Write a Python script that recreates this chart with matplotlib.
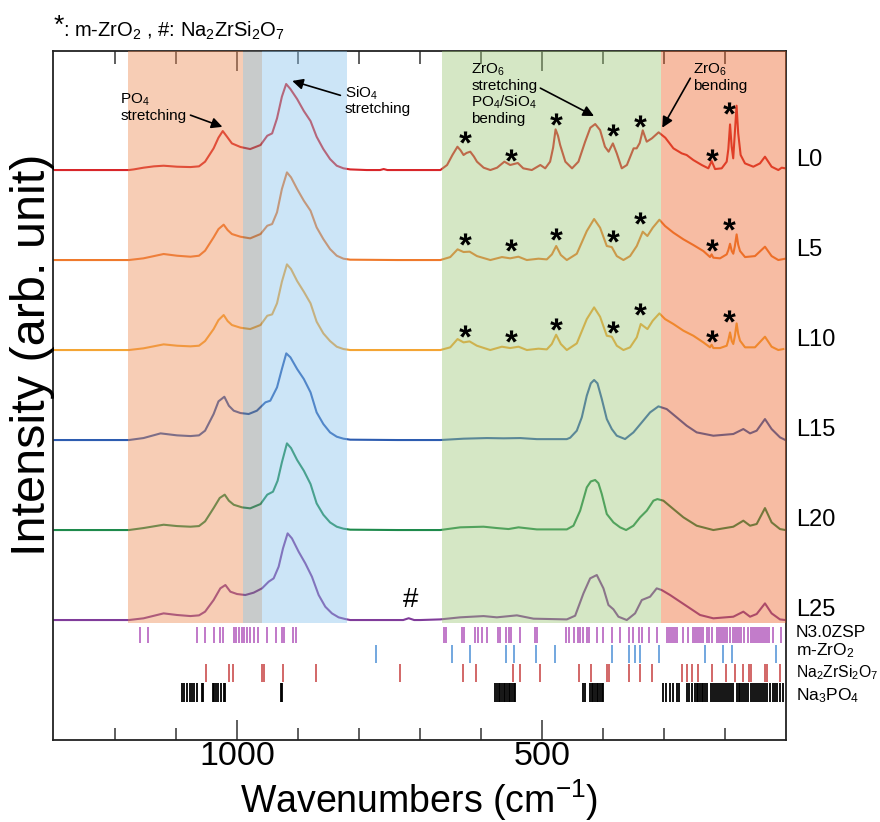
import numpy as np
import matplotlib
matplotlib.use('Agg')
import matplotlib.pyplot as plt
from matplotlib.patches import Rectangle
from matplotlib.textpath import TextPath
from matplotlib.font_manager import FontProperties
from matplotlib.path import Path

plt.rcParams['font.family'] = ['Liberation Sans', 'DejaVu Sans']
plt.rcParams['mathtext.fontset'] = 'custom'
plt.rcParams['mathtext.rm'] = 'Liberation Sans'
plt.rcParams['mathtext.it'] = 'Liberation Sans:italic'
plt.rcParams['mathtext.bf'] = 'Liberation Sans:bold'

# ---------------- data (wavenumber in cm-1, intensity in arb. unit) ----------------
SAMPLES = ['L0', 'L5', 'L10', 'L15', 'L20', 'L25']

WN_L0 = [1302, 1178, 1170, 1154, 1137, 1121, 1099, 1077, 1063, 1053, 1039, 1031, 1024, 1017, 1009, 995, 979, 962, 951, 943,
         935, 927, 920, 913, 902, 891, 880, 870, 859, 848, 837, 826, 815, 788, 766, 760, 754, 738,
         700, 667, 656, 647, 639, 634, 629, 624, 618, 612, 607, 596, 585, 574, 562, 552.5, 540, 531, 517, 503,
         495, 487, 482, 478, 474, 470.5, 462, 451, 440.5, 429.5, 421, 413, 405, 397, 391, 384, 377.6, 369.4, 361, 350,
         345, 340, 335, 328.5, 320, 309, 298, 284.7, 271, 263, 252, 238.3, 227.4, 222, 216.4, 205.5, 197.3, 194.6, 191.8, 189.1,
         186.6, 183.8, 181.1, 178.4, 174.4, 167.3, 153.6, 142.7, 134.5, 123.6, 112.6, 107, 101]
I_L0 = [0, 0, 0.007, 0.026, 0.041, 0.048, 0.037, 0.033, 0.041, 0.093, 0.241, 0.36, 0.433, 0.37, 0.296, 0.256, 0.233, 0.278, 0.381, 0.407,
        0.574, 0.815, 0.956, 0.9, 0.789, 0.656, 0.544, 0.37, 0.233, 0.122, 0.048, 0.019, 0.007, 0, 0, 0.011, 0, 0,
        0, 0, 0.056, 0.17, 0.259, 0.22, 0.167, 0.19, 0.204, 0.15, 0.093, 0.026, 0, 0.026, 0.093, 0.056, 0.078, 0.019, 0, 0.056,
        0.019, 0.093, 0.25, 0.452, 0.38, 0.278, 0.093, 0.019, 0.093, 0.315, 0.47, 0.511, 0.444, 0.259, 0.204, 0.296, 0.185, 0.019, 0.056, 0.241,
        0.241, 0.3, 0.441, 0.315, 0.352, 0.419, 0.359, 0.241, 0.185, 0.167, 0.111, 0.056, 0.019, 0.1, 0.011, 0.019, 0.093, 0.233, 0.507, 0.259,
        0.13, 0.426, 0.715, 0.407, 0.167, 0.074, 0.037, 0.074, 0.148, 0.037, 0, 0.026, 0.019]

WN_L5 = [1302, 1178, 1154, 1121, 1099, 1077, 1063, 1053, 1039, 1031, 1022.5, 1016, 1009, 995, 979, 962, 951, 943, 935, 927,
         918.7, 912, 902, 891, 880, 870, 859, 848, 837, 826, 815, 738,
         683.6, 667, 650.8, 638.8, 629, 619, 607, 585, 566, 552.5, 539, 525.2, 506, 492.4, 484, 477, 469.4, 459.6, 443.2, 426.8,
         414.8, 405, 394, 385.8, 377.6, 366.7, 355.8, 344.8, 335, 327.4, 318.6, 307.7, 298.4, 284.7, 268.3, 252, 235.6, 224.6, 222, 219.2,
         208.2, 197.3, 194.6, 191.8, 189, 186.5, 184, 181, 178.4, 175.4, 167.2, 150.9, 134.5, 123.6, 112.6, 101]
I_L5 = [0, 0, 0.019, 0.067, 0.048, 0.037, 0.048, 0.104, 0.252, 0.344, 0.393, 0.333, 0.289, 0.259, 0.241, 0.289, 0.381, 0.4, 0.53, 0.789,
        0.974, 0.919, 0.789, 0.659, 0.548, 0.363, 0.233, 0.122, 0.048, 0.015, 0.004, 0,
        0, 0, 0.033, 0.119, 0.089, 0.093, 0.044, 0, 0.033, 0.019, 0.037, 0, 0.015, 0.007, 0.063, 0.156, 0.056, 0, 0.07, 0.322,
        0.456, 0.359, 0.156, 0.144, 0.044, 0, 0.044, 0.156, 0.315, 0.267, 0.359, 0.448, 0.378, 0.304, 0.23, 0.167, 0.1, 0.033, 0.063, 0.026,
        0.019, 0.063, 0.11, 0.181, 0.1, 0.07, 0.15, 0.285, 0.17, 0.1, 0.033, 0.044, 0.148, 0.044, 0, 0.015]

WN_L10 = [1302, 1178, 1154, 1121, 1099, 1077, 1063, 1053, 1039, 1031, 1022.5, 1016, 1009, 995, 979, 962, 951, 943, 935, 927,
          918.7, 912, 902, 891, 880, 870, 859, 848, 837, 826, 815, 738,
          683.6, 667, 650.8, 638.8, 629, 619.1, 607.1, 585.2, 566.1, 552.5, 538.8, 525.1, 506, 492.4, 484.2, 477.1, 469.4, 459.6, 443.2, 426.8,
          414.8, 405, 394, 385.8, 377.6, 366.7, 355.8, 344.8, 338.3, 327.3, 318.6, 307.7, 298.4, 284.7, 268.3, 252, 235.6, 224.6, 222, 219.2,
          208.2, 197.3, 194.6, 191.8, 189, 186.5, 184, 181, 178.4, 175.4, 167.2, 150.9, 134.5, 123.6, 112.6, 104.4]
I_L10 = [0, 0, 0.019, 0.063, 0.048, 0.041, 0.048, 0.1, 0.233, 0.333, 0.389, 0.322, 0.278, 0.248, 0.233, 0.278, 0.381, 0.396, 0.519, 0.759,
         0.952, 0.9, 0.767, 0.648, 0.519, 0.315, 0.185, 0.1, 0.037, 0.011, 0, 0,
         0, 0, 0.03, 0.122, 0.085, 0.096, 0.048, 0, 0.037, 0.022, 0.037, 0, 0.015, 0.007, 0.067, 0.17, 0.067, 0, 0.074, 0.344,
         0.474, 0.37, 0.159, 0.148, 0.048, 0, 0.03, 0.141, 0.289, 0.233, 0.326, 0.407, 0.344, 0.289, 0.215, 0.159, 0.085, 0.03, 0.059, 0.022,
         0.022, 0.048, 0.11, 0.196, 0.1, 0.067, 0.15, 0.296, 0.18, 0.104, 0.03, 0.03, 0.148, 0.037, 0, 0.011]

WN_L15 = [1302, 1178, 1154, 1126, 1099, 1077, 1063, 1053, 1039, 1031, 1021.4, 1014, 1006, 995, 981.5, 968, 954, 946, 935, 927,
          919.8, 913, 902, 891, 880, 870, 859, 848, 837, 826, 815, 738,
          700, 667.2, 629, 590.7, 563.4, 536, 508.8, 459.6, 454, 443.2, 435, 426.8, 420.2, 414.8, 409.3, 402.2, 394, 385.8, 377.6, 364,
          350.3, 336.6, 323, 309.3, 295.7, 279.3, 262.9, 246.5, 219.2, 186.4, 170, 159, 148.1, 134.5, 123.6, 109.9, 101]
I_L15 = [0, 0, 0.022, 0.074, 0.052, 0.044, 0.052, 0.104, 0.289, 0.43, 0.481, 0.381, 0.326, 0.3, 0.289, 0.326, 0.419, 0.437, 0.585, 0.789,
         0.963, 0.919, 0.789, 0.678, 0.53, 0.307, 0.178, 0.085, 0.037, 0.015, 0.004, 0,
         0, 0, 0.015, 0.022, 0.019, 0.022, 0.01, 0.01, 0.026, 0.104, 0.252, 0.493, 0.63, 0.667, 0.63, 0.456, 0.233, 0.122, 0.048, 0.011,
         0.085, 0.196, 0.307, 0.374, 0.344, 0.252, 0.159, 0.085, 0.048, 0.067, 0.122, 0.074, 0.104, 0.233, 0.122, 0.03, 0]

WN_L20 = [1302, 1178, 1154, 1121, 1099, 1077, 1063, 1053, 1039, 1029, 1020.8, 1014, 1006, 992.4, 979, 962, 951, 941.6, 934, 927,
          918.7, 912, 902, 891, 880, 870, 859, 848, 837, 826, 815, 738,
          700, 667.2, 634.4, 596.2, 574.3, 555.2, 538.8, 508.8, 459.6, 448.7, 437.7, 426.8, 420.2, 413.1, 407.7, 402.2, 394, 383.1, 372.2, 362.3,
          350.3, 339.4, 328.4, 317.5, 311, 301.1, 284.7, 268.3, 246.5, 219.2, 186.4, 170, 159, 148.1, 134.5, 123.6, 109.9, 101]
I_L20 = [0, 0, 0.022, 0.059, 0.044, 0.037, 0.044, 0.096, 0.244, 0.356, 0.393, 0.326, 0.281, 0.252, 0.241, 0.289, 0.393, 0.426, 0.548, 0.752,
         0.963, 0.911, 0.778, 0.659, 0.511, 0.296, 0.17, 0.085, 0.037, 0.015, 0.004, 0,
         0, 0, 0.03, 0.037, 0.022, 0.011, 0.03, 0.007, 0.007, 0.048, 0.215, 0.474, 0.54, 0.556, 0.52, 0.4, 0.178, 0.085, 0.03, 0,
         0.048, 0.141, 0.215, 0.326, 0.344, 0.326, 0.233, 0.141, 0.048, 0, 0.037, 0.104, 0.048, 0.067, 0.244, 0.085, 0.011, 0]

WN_L25 = [1302, 1178, 1154, 1121, 1099, 1077, 1063, 1053, 1039, 1028, 1019.7, 1011.5, 1000.6, 987, 973.3, 959.6, 948.7, 940.5, 932.3, 925.2,
          917.6, 910.5, 899.5, 888.6, 877.7, 866.7, 855.8, 844.9, 834, 823, 815, 728, 719, 710,
          700, 667.2, 634.4, 596.2, 574.3, 541.5, 514.2, 459.6, 445.9, 432.3, 421.3, 410.4, 399.5, 391.3, 383.1, 374.9, 361.2, 347.6, 336.6, 323,
          312.1, 303.9, 290.2, 273.8, 257.4, 241, 219.2, 186.4, 170, 159, 148.1, 134.5, 123.6, 109.9, 101]
I_L25 = [0, 0, 0.019, 0.074, 0.056, 0.044, 0.052, 0.093, 0.222, 0.352, 0.389, 0.315, 0.289, 0.278, 0.304, 0.352, 0.426, 0.463, 0.593, 0.796,
         0.963, 0.907, 0.759, 0.63, 0.481, 0.278, 0.148, 0.074, 0.03, 0.011, 0, 0, 0.02, 0,
         0, 0.007, 0.03, 0.044, 0.03, 0.052, 0.015, 0.007, 0.048, 0.296, 0.463, 0.5, 0.352, 0.167, 0.119, 0.037, 0, 0.074, 0.222, 0.259,
         0.352, 0.333, 0.278, 0.204, 0.13, 0.056, 0.019, 0.037, 0.093, 0.037, 0.067, 0.185, 0.074, 0.007, 0]

# m-ZrO2 markers (*) : wavenumbers and heights above each baseline
STAR_WN = [626, 551, 477, 384, 339, 222, 193]
STAR_L0 = [0.37, 0.17, 0.57, 0.45, 0.55, 0.17, 0.69]
STAR_L5 = [0.23, 0.167, 0.29, 0.27, 0.47, 0.163, 0.40]
STAR_L10 = [0.214, 0.156, 0.289, 0.259, 0.456, 0.151, 0.381]

# reference line positions
REF_NAMES = ['N3.0ZSP', 'm-ZrO$_2$', 'Na$_2$ZrSi$_2$O$_7$', 'Na$_3$PO$_4$']
REF_N30ZSP = [1159, 1147, 1066, 1052.5, 1039, 1028, 1024, 1006, 1002, 997.4, 993, 988.6, 984, 979, 973, 967, 951.4, 936.7, 926.9, 924,
              909, 903.4, 661.7, 657.4, 631.7, 627.9, 609.8, 606, 598.9, 590.7, 573.2, 568.8, 559, 555.2, 551.4, 536, 511.5, 508.7,
              460.7, 456.8, 448.6, 442, 437.7, 433.3, 426.8, 422.4, 409.3, 399.5, 385.8, 372.1, 356.8, 351.4, 340.5, 336.6, 324, 312,
              295.6, 292.4, 289, 285.8, 282.5, 278.2, 269.4, 260.1, 251.9, 248.6, 245.4, 242, 238.8, 235.5, 230, 225.7, 221.9, 212.6,
              209.3, 206, 202.8, 199.5, 196.2, 191.8, 187.5, 183.1, 179.8, 176.5, 173.3, 168.9, 161.8, 157.9, 154.7, 151.4, 148.1,
              144.8, 141.6, 138.3, 135, 131.7, 127.4, 120.8, 108.8]
REF_MZRO2 = [772, 648, 619, 559, 546, 510, 479, 386, 357, 348, 339, 309, 233, 204, 189, 116]
REF_NZS = [1051, 1013, 1007, 960, 957, 925, 871, 734, 630, 608, 548, 536, 503, 440, 420, 394, 391, 357, 340, 320, 271, 263, 255,
           244, 222, 198, 184, 170, 160, 158, 134.5, 130.6, 110]
REF_NPO = [1091, 1087, 1083, 1078, 1074, 1071, 1066, 1058, 1056, 1040.5, 1038, 1034.5, 1031, 1027, 1022.5, 1020, 928, 926.3,
           577, 574.4, 571.6, 568.8, 566.1, 563.4, 560.7, 557.9, 555.2, 552.5, 549.7, 547, 544.3,
           433.3, 429.5, 421.3, 418.6, 415.9, 413.1, 410.4, 407.7, 404.9, 402.2, 399.5,
           301.1, 296.7, 290.2, 285.8, 279.3, 274.9, 262.9, 258.5, 254.7, 249.2, 246.5, 243.7, 241, 238.3, 235.5, 232.8, 230.1,
           223.5, 219.1, 215.9, 212.6, 209.3, 206, 202.8, 199.5, 197.3, 194, 190.7, 187.5, 180.9, 177.6, 175.4, 172.7, 168.9,
           165.6, 161.8, 157.9, 154.7, 151.4, 148.1, 144.8, 141.6, 138.3, 134.5, 130.6, 126.3, 121.9, 118.1, 114.3, 109.9, 105.5]

# band assignment regions (cm-1)
REGIONS = [(990, 1180), (960, 990), (820, 960), (305, 665), (100, 305)]

# ---------------- styling ----------------
OFFSETS = [5, 4, 3, 2, 1, 0]
LINE_COLORS = ['#d8262a', '#ef7a2c', '#f4a534', '#2d5cb0', '#1e8a4c', '#803c9a']
REGION_COLORS = ['#ee8850', '#7e8383', '#86c3ee', '#9bc675', '#ec6024']
REGION_ALPHA = 0.42
REF_COLORS = ['#b055bb', '#4b8fd6', '#c63f3f', '#000000']
REF_Y = [(-0.074, -0.259), (-0.278, -0.474), (-0.489, -0.689), (-0.70, -0.908)]
REF_LABEL_Y = [-0.189, -0.389, -0.633, -0.889]
REF_LABEL_SIZE = [12.5, 12.5, 11.3, 12.5]

fig = plt.figure(figsize=(8.8, 8.22), dpi=100)
ax = fig.add_axes([53.3 / 880, 1 - 740 / 822, (786 - 53.3) / 880, (740 - 50.7) / 822])
ax.set_xlim(1302, 100)
ax.set_ylim(-1.333, 6.326)

spectra = [(WN_L0, I_L0), (WN_L5, I_L5), (WN_L10, I_L10), (WN_L15, I_L15), (WN_L20, I_L20), (WN_L25, I_L25)]
for (wn, inten), off, col, name in zip(spectra, OFFSETS, LINE_COLORS, SAMPLES):
    ax.plot(wn, np.array(inten) + off, color=col, lw=1.5, zorder=2, solid_joinstyle='round')
    ax.text(1.0136, off + 0.05, name, transform=ax.get_yaxis_transform(), fontsize=17,
            ha='left', va='baseline', clip_on=False)

# translucent band overlays
for (x0, x1), c in zip(REGIONS, REGION_COLORS):
    ax.add_patch(Rectangle((x0, -0.033), x1 - x0, 7.0, facecolor=c, edgecolor='none',
                           alpha=REGION_ALPHA, zorder=3))

# asterisk marker built from the glyph outline
fp = FontProperties(family='Liberation Sans', weight='bold')
tp = TextPath((0, 0), '*', size=1, prop=fp)
codes = tp.codes
verts = tp.vertices.copy()
real = codes != Path.CLOSEPOLY
cx = (verts[real, 0].min() + verts[real, 0].max()) / 2
cy = (verts[real, 1].min() + verts[real, 1].max()) / 2
verts[:, 0] -= cx
verts[:, 1] -= cy
verts[~real] = verts[0]
star = Path(verts, codes)
for hts, off in zip([STAR_L0, STAR_L5, STAR_L10], OFFSETS[:3]):
    ax.plot(STAR_WN, np.array(hts) + off, ls='none', marker=star, ms=9, mew=0, color='k', zorder=6)

# reference sticks
for pos, col, (y0, y1), lab, ly, fs in zip([REF_N30ZSP, REF_MZRO2, REF_NZS, REF_NPO], REF_COLORS, REF_Y,
                                           REF_NAMES, REF_LABEL_Y, REF_LABEL_SIZE):
    ax.vlines(pos, y1, y0, color=col, lw=1.1 if col != '#000000' else 1.3, zorder=2)
    ax.text(1.0136, ly, lab, transform=ax.get_yaxis_transform(), fontsize=fs, ha='left', va='baseline', clip_on=False)

# annotations
tkw = dict(fontsize=11, ha='left', va='top', zorder=7, linespacing=1.05)
ax.text(1192, 5.87, 'PO$_4$\nstretching', **tkw)
ax.text(824, 5.95, 'SiO$_4$\nstretching', **tkw)
ax.text(616, 6.2, 'ZrO$_6$\nstretching\nPO$_4$/SiO$_4$\nbending', **tkw)
ax.text(252, 6.2, 'ZrO$_6$\nbending', **tkw)
akw = dict(arrowstyle='-|>', color='black', lw=1.2, mutation_scale=16, shrinkA=0, shrinkB=0)
ax.annotate('', xy=(1024.6, 5.48), xytext=(1077, 5.61), arrowprops=akw, zorder=7)
ax.annotate('', xy=(910, 5.99), xytext=(831, 5.83), arrowprops=akw, zorder=7)
ax.annotate('', xy=(415, 5.6), xytext=(503, 5.91), arrowprops=akw, zorder=7)
ax.annotate('', xy=(303, 5.47), xytext=(257, 6.02), arrowprops=akw, zorder=7)
ax.text(716, 0.22, '#', fontsize=20, ha='center', va='center', zorder=7)

# axes styling
ax.set_xticks([1000, 500])
ax.set_xticklabels(['1000', '500'])
ax.set_xticks([1200, 1100, 900, 800, 700, 600, 400, 300, 200], minor=True)
ax.set_yticks([])
ax.tick_params(axis='x', which='both', direction='in', top=True, bottom=True, width=1.1, color='#333333')
ax.tick_params(axis='x', which='major', length=14.5, labelsize=24.5, pad=1)
ax.tick_params(axis='x', which='minor', length=9)
for sp in ax.spines.values():
    sp.set_linewidth(1.3)
    sp.set_color('#222222')

fig.text(419.6 / 880, 1 - 813 / 822, 'Wavenumbers (cm$^{-1}$)', fontsize=27, ha='center', va='baseline')
fig.text(33 / 880, 1 - 355 / 822, 'Intensity (arb. unit)', fontsize=35, rotation=90, ha='center', va='center')

fig.text(54 / 880, 1 - 33 / 822, '*', fontsize=19, ha='left', va='baseline')
fig.text(63 / 880, 1 - 36.7 / 822, ': m-ZrO$_2$ , #: Na$_2$ZrSi$_2$O$_7$', fontsize=14.5, ha='left', va='baseline')

fig.savefig('out.png', dpi=100)
